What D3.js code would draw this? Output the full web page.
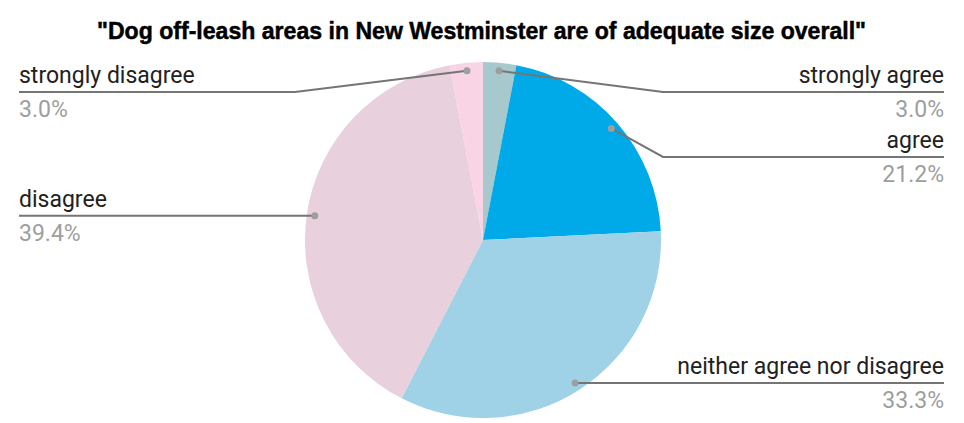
<!DOCTYPE html>
<html>
<head>
<meta charset="utf-8">
<script src="https://cdn.jsdelivr.net/npm/d3@7/dist/d3.min.js"></script>
<style>
  html, body { margin: 0; padding: 0; background: #fff; }
  svg { display: block; }
</style>
</head>
<body>
<svg id="chart" width="964" height="423"></svg>
<script>
// Survey responses, in clockwise order from 12 o'clock
const categories = ["strongly agree", "agree", "neither agree nor disagree", "disagree", "strongly disagree"];
const values = [3.0, 21.2, 33.3, 39.4, 3.0];
const colors = ["#a7c8cc", "#00a9e8", "#9fd2e6", "#e8d0dc", "#f9d4e4"];
const title = "\"Dog off-leash areas in New Westminster are of adequate size overall\"";

const W = 964, H = 423;
const cx = 483, cy = 240, R = 178;
const svg = d3.select("#chart");

svg.append("text")
  .attr("x", 97).attr("y", 39)
  .attr("textLength", 769).attr("lengthAdjust", "spacingAndGlyphs")
  .style("font-family", "'Liberation Sans', Arial, sans-serif")
  .style("font-weight", "bold")
  .style("font-size", "24px")
  .attr("fill", "#000")
  .attr("stroke", "#000")
  .attr("stroke-width", 0.5)
  .text(title);

const pie = d3.pie().sort(null).value(d => d.value);
const data = categories.map((c, i) => ({ name: c, value: values[i], color: colors[i] }));
const arcs = pie(data);
const arc = d3.arc().innerRadius(0).outerRadius(R);
const pointArc = d3.arc().innerRadius(170).outerRadius(170);

const g = svg.append("g").attr("transform", `translate(${cx},${cy})`);
g.selectAll("path").data(arcs).join("path")
  .attr("d", arc)
  .attr("fill", d => d.data.color);

// Label layout: left/right columns, leader lines pushed apart vertically
const labels = arcs.map(a => {
  const [px, py] = pointArc.centroid(a);
  const mid = (a.startAngle + a.endAngle) / 2;
  return { a, px: cx + px, py: cy + py, side: mid > Math.PI ? "left" : "right" };
});
const minY = 92, gap = 65;
["left", "right"].forEach(side => {
  const list = labels.filter(l => l.side === side).sort((p, q) => p.py - q.py);
  let prev = -Infinity;
  list.forEach(l => {
    l.ly = Math.max(l.py, minY, prev + gap);
    prev = l.ly;
  });
});

const pct = d3.format(".1f");
const textX = { left: 19, right: 944 };
const elbowX = { left: cx - R - 10, right: cx + R + 2 };

labels.forEach(l => {
  const left = l.side === "left";
  const ex = left ? Math.min(l.px, elbowX.left) : Math.max(l.px, elbowX.right);
  svg.append("polyline")
    .attr("points", [[textX[l.side], l.ly], [ex, l.ly], [l.px, l.py]].map(p => p.join(",")).join(" "))
    .attr("fill", "none")
    .attr("stroke", "#757575")
    .attr("stroke-width", 2);
  svg.append("circle")
    .attr("cx", l.px).attr("cy", l.py).attr("r", 3.5)
    .attr("fill", "#9e9e9e");
  svg.append("text")
    .attr("x", textX[l.side]).attr("y", l.ly - 9)
    .attr("text-anchor", left ? "start" : "end")
    .style("font-family", "Roboto, sans-serif")
    .style("font-size", "23px")
    .attr("fill", "#212121")
    .text(l.a.data.name);
  svg.append("text")
    .attr("x", textX[l.side]).attr("y", l.ly + 25)
    .attr("text-anchor", left ? "start" : "end")
    .style("font-family", "Roboto, sans-serif")
    .style("font-size", "23px")
    .attr("fill", "#9e9e9e")
    .text(pct(l.a.data.value) + "%");
});
</script>
</body>
</html>
